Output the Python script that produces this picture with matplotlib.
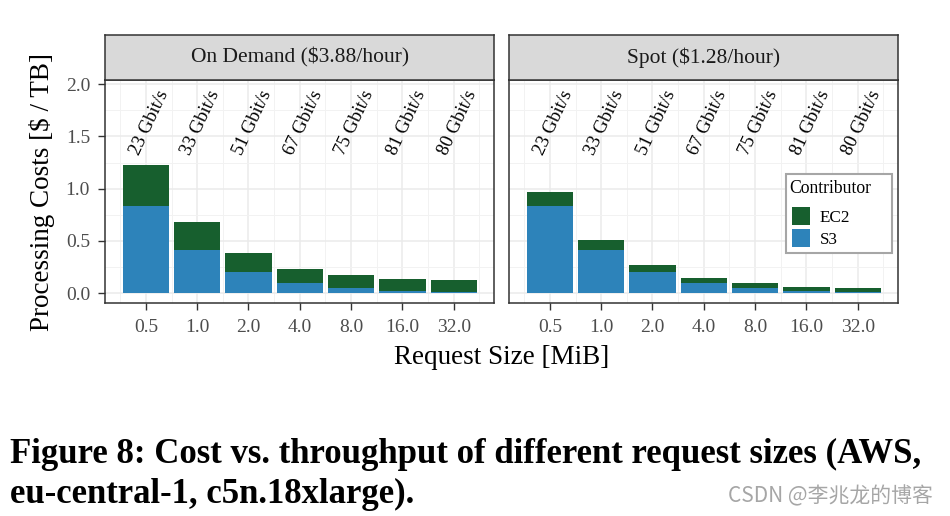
import matplotlib.pyplot as plt
from matplotlib.patches import Rectangle
import numpy as np

sizes = ["0.5", "1.0", "2.0", "4.0", "8.0", "16.0", "32.0"]
throughput = ["23 Gbit/s", "33 Gbit/s", "51 Gbit/s", "67 Gbit/s", "75 Gbit/s", "81 Gbit/s", "80 Gbit/s"]
s3_cost = [0.835, 0.414, 0.204, 0.099, 0.051, 0.019, 0.013]
ec2_on_demand = [0.393, 0.268, 0.181, 0.134, 0.124, 0.117, 0.114]
ec2_spot = [0.134, 0.096, 0.066, 0.047, 0.045, 0.041, 0.038]
panels = ["On Demand ($3.88/hour)", "Spot ($1.28/hour)"]
contributors = ["EC2", "S3"]

GREEN = "#175F2E"
BLUE = "#2D83BA"
SERIF = "Liberation Serif"

plt.rcParams["font.family"] = SERIF

W, H = 950, 516
fig = plt.figure(figsize=(W / 100, H / 100), dpi=100)


def px_axes(x0, y0, x1, y1):
    return fig.add_axes([x0 / W, 1 - y1 / H, (x1 - x0) / W, (y1 - y0) / H])


def draw_panel(ax, ec2, show_y):
    x = np.arange(len(sizes))
    ax.bar(x, s3_cost, width=0.9, color=BLUE, zorder=3)
    ax.bar(x, ec2, width=0.9, bottom=s3_cost, color=GREEN, zorder=3)
    for i, lab in enumerate(throughput):
        ax.text(i - 0.13, 1.31, lab, rotation=65, rotation_mode="anchor",
                ha="left", va="baseline", fontsize=13.5, zorder=4)
    ax.set_xlim(-0.79, 6.79)
    ax.set_ylim(-0.096, 2.04)
    ax.set_xticks(x)
    ax.set_xticklabels(sizes)
    ax.set_xticks(np.arange(-0.5, 7, 1), minor=True)
    ax.set_yticks([0, 0.5, 1.0, 1.5, 2.0])
    ax.set_yticks(np.arange(0.25, 2.0, 0.5), minor=True)
    ax.grid(True, which="major", color="#EBEBEB", lw=1.1, zorder=0)
    ax.grid(True, which="minor", color="#F2F2F2", lw=0.7, zorder=0)
    ax.tick_params(which="minor", length=0)
    ax.tick_params(which="major", length=5, width=1.0, color="#333333",
                   labelsize=14, labelcolor="#4D4D4D", pad=6)
    if show_y:
        ax.set_yticklabels(["0.0", "0.5", "1.0", "1.5", "2.0"])
    else:
        ax.tick_params(axis="y", left=False, labelleft=False)
    for sp in ax.spines.values():
        sp.set_color("#333333")
        sp.set_linewidth(1.1)


left = px_axes(105.3, 80, 494.3, 303.3)
right = px_axes(509.3, 80, 898.3, 303.3)
draw_panel(left, ec2_on_demand, True)
draw_panel(right, ec2_spot, False)

# facet strips
for (x0, x1), title in zip([(105.3, 494.3), (509.3, 898.3)], panels):
    st = px_axes(x0, 34.7, x1, 80)
    st.set_facecolor("#D9D9D9")
    st.set_xticks([])
    st.set_yticks([])
    for sp in st.spines.values():
        sp.set_color("#333333")
        sp.set_linewidth(1.1)
    st.text(0.5, 0.5, title, ha="center", va="center", fontsize=15.5,
            color="#1A1A1A", transform=st.transAxes)

left.set_ylabel("Processing Costs [$ / TB]", fontsize=19.5, labelpad=8)
fig.text(502 / W, 1 - 357 / H, "Request Size [MiB]", ha="center", va="center", fontsize=19.5)

# legend, drawn ggplot-style on a pixel overlay
ov = fig.add_axes([0, 0, 1, 1], zorder=10)
ov.set_xlim(0, W)
ov.set_ylim(H, 0)
ov.axis("off")
ov.add_patch(Rectangle((786, 174), 105.7, 79.3, facecolor="white",
                       edgecolor="#A6A6A6", lw=1.5))
ov.text(789, 193.3, "Contributor", fontsize=12.7, ha="left", va="baseline")
for k, (name, col) in enumerate(zip(contributors, [GREEN, BLUE])):
    top = 207.3 + k * 21.8
    ov.add_patch(Rectangle((792.3, top), 17.7, 17.5, facecolor=col, edgecolor="none"))
    ov.text(820, top + 15, name, fontsize=12.3, ha="left", va="baseline")

fig.text(10 / W, 1 - 463 / H, "Figure 8: Cost vs. throughput of different request sizes (AWS,",
         fontsize=25, fontweight="bold", ha="left", va="baseline")
fig.text(10 / W, 1 - 503 / H, "eu-central-1, c5n.18xlarge).",
         fontsize=25, fontweight="bold", ha="left", va="baseline")
fig.text(933 / W, 1 - 496 / H, "CSDN @李兆龙的博客", ha="right", va="center",
         fontsize=15, color="#A6A6A6", family=["Noto Sans CJK SC", "DejaVu Sans"])

fig.savefig("out.png", dpi=100)
